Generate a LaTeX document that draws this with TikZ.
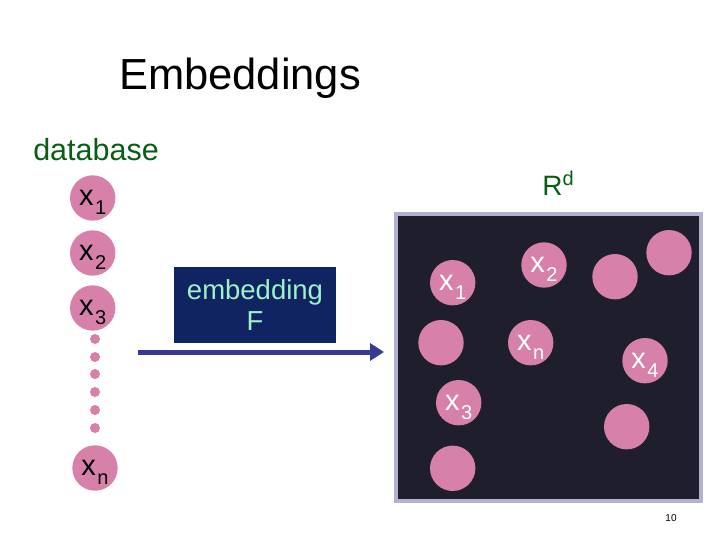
\documentclass[tikz,border=0pt]{standalone}
\usepackage{fontspec}
\setmainfont{Liberation Sans}
\usetikzlibrary{arrows.meta}
\definecolor{dotpink}{RGB}{214,128,170}
\definecolor{spacedark}{RGB}{30,30,44}
\definecolor{spaceedge}{RGB}{178,178,206}
\definecolor{boxnavy}{RGB}{16,36,98}
\definecolor{boxtext}{RGB}{160,240,200}
\definecolor{dbgreen}{RGB}{10,94,20}
\definecolor{arrowblue}{RGB}{56,56,150}
\newcommand{\xlbl}[1]{x\kern1.5pt\raisebox{-9pt}[0pt][0pt]{\fontsize{20}{20}\selectfont #1}}
\tikzstyle{item}=[circle,fill=dotpink,minimum size=45.4pt,inner sep=0pt,font=\fontsize{29}{29}\selectfont]
\tikzstyle{point}=[item,text=white]
\tikzstyle{gap}=[circle,fill=dotpink,minimum size=10pt,inner sep=0pt]

\begin{document}
\begin{tikzpicture}[x=1pt,y=-1pt]
\useasboundingbox (0,0) rectangle (720,540);

\node (title) at (240,78) {\fontsize{43.5}{43.5}\selectfont Embeddings};
\node[text=dbgreen] (db) at (96,150) {\fontsize{30.5}{30.5}\selectfont database};
\node[text=dbgreen] (rd) at (558,183) {\fontsize{28}{28}\selectfont R\raisebox{10pt}{\fontsize{20}{20}\selectfont d}};

% database side
\node[item] (a1) at (92.7,198) {\xlbl{1}};
\node[item] (a2) at (92.7,253) {\xlbl{2}};
\node[item] (a3) at (92.7,308) {\xlbl{3}};
\node[item] (an) at (95,468) {\xlbl{n}};

\node[gap] (g1) at (95,339) {};
\node[gap] (g2) at (95,357) {};
\node[gap] (g3) at (95,374) {};
\node[gap] (g4) at (95,392) {};
\node[gap] (g5) at (95,410) {};
\node[gap] (g6) at (95,428) {};

% mapping
\node[fill=boxnavy,text=boxtext,minimum width=162pt,minimum height=76pt,align=center,font=\fontsize{27.5}{31}\selectfont] (emb) at (255,305) {embedding\\F};
\coordinate (from) at (138,352);
\coordinate (to) at (384,352);
\draw[arrowblue,line width=5pt,-{Triangle[length=14pt,width=17pt]}] (from) -- (to);

% target space
\node[draw=spaceedge,fill=spacedark,line width=4pt,minimum width=305pt,minimum height=287pt,inner sep=0pt] (space) at (548.5,357.5) {};

\node[point] (b1) at (452.7,282.7) {\xlbl{1}};
\node[point] (b2) at (544,265) {\xlbl{2}};
\node[point] (bn) at (530.7,342.7) {\xlbl{n}};
\node[point] (b4) at (645,360.7) {\xlbl{4}};
\node[point] (b3) at (458.7,402.7) {\xlbl{3}};
\node[point] (c1) at (615,276.7) {};
\node[point] (c2) at (669,252.7) {};
\node[point] (c3) at (441,342.7) {};
\node[point] (c4) at (626.7,426.7) {};
\node[point] (c5) at (452.7,468.3) {};

\node (page) at (671,518) {\fontsize{10}{10}\selectfont 10};

\end{tikzpicture}
\end{document}
